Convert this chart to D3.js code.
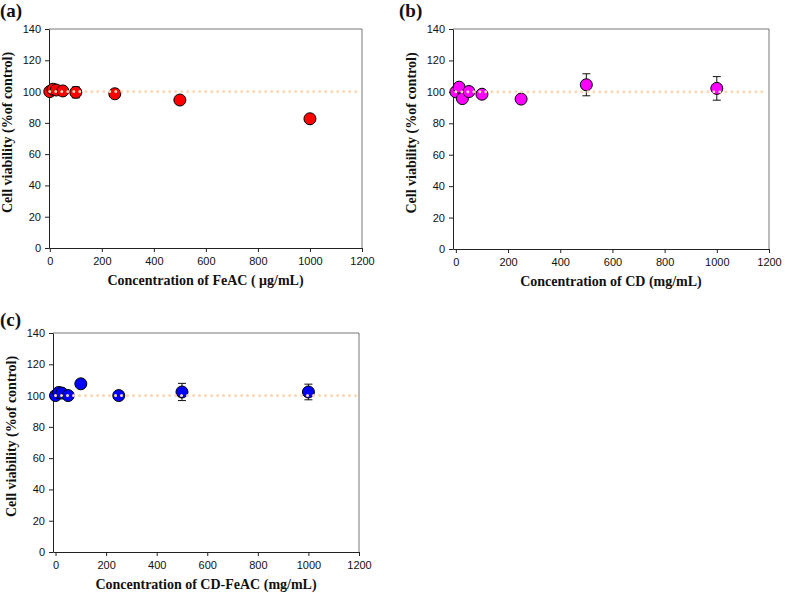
<!DOCTYPE html>
<html>
<head>
<meta charset="utf-8">
<script src="https://cdn.jsdelivr.net/npm/d3@7/dist/d3.min.js"></script>
<style>
  html, body { margin: 0; padding: 0; background: #fff; }
  svg { display: block; }
</style>
</head>
<body>
<svg id="chart" width="785" height="593"></svg>
<script>
// ---- Data ----
const concentrations = [0, 12.5, 25, 50, 100, 250, 500, 1000];
const viabilityFeAC = [100, 101.5, 101, 100.4, 99.5, 98.6, 94.6, 82.6];
const errorFeAC = [0, 0, 0, 0, 3.5, 1.5, 0, 0];
const viabilityCD = [100, 103, 95.7, 100.2, 98.5, 95.4, 104.5, 102.2];
const errorCD = [0, 0, 0, 0, 0, 0, 7, 7.5];
const viabilityCDFeAC = [100, 102, 101.6, 100, 107.5, 100, 102.3, 102.3];
const errorCDFeAC = [0, 0, 0, 0, 0, 0, 5.5, 5];
const xTicks = [0, 200, 400, 600, 800, 1000, 1200];
const yTicks = [0, 20, 40, 60, 80, 100, 120, 140];
const controlLevel = 100;
const panelLabels = ["(a)", "(b)", "(c)"];
const xTitles = ["Concentration of FeAC ( \u03BCg/mL)", "Concentration of CD (mg/mL)", "Concentration of CD-FeAC (mg/mL)"];
const yTitle = "Cell viability (%of control)";

// ---- Layout ----
const panels = [
  { values: viabilityFeAC, errors: errorFeAC, color: "#ff0000", left: 49, right: 362, top: 29, bottom: 248, xmin: -3, labelX: 0, labelY: 17 },
  { values: viabilityCD, errors: errorCD, color: "#ff00ff", left: 453, right: 769, top: 29, bottom: 249, xmin: -11, labelX: 399, labelY: 17 },
  { values: viabilityCDFeAC, errors: errorCDFeAC, color: "#0000ff", left: 53, right: 359, top: 333, bottom: 552, xmin: -10, labelX: 0, labelY: 326 }
];

const svg = d3.select("#chart");
const serif = "'Liberation Serif', 'Times New Roman', Times, serif";

panels.forEach((p, i) => {
  const g = svg.append("g");
  const x = d3.scaleLinear().domain([p.xmin, 1200]).range([p.left, p.right]);
  const y = d3.scaleLinear().domain([0, 140]).range([p.bottom, p.top]);

  // frame (top/right)
  g.append("path")
    .attr("d", `M${p.left},${p.top}H${p.right}V${p.bottom}`)
    .attr("fill", "none").attr("stroke", "#777").attr("stroke-width", 1);

  // axes
  const xAxis = d3.axisBottom(x).tickValues(xTicks).tickFormat(d3.format("d")).tickSize(4).tickSizeOuter(0).tickPadding(5);
  const yAxis = d3.axisLeft(y).tickValues(yTicks).tickFormat(d3.format("d")).tickSize(4).tickSizeOuter(0).tickPadding(4);
  const gx = g.append("g").attr("transform", `translate(0,${p.bottom})`).call(xAxis);
  const gy = g.append("g").attr("transform", `translate(${p.left},0)`).call(yAxis);
  [gx, gy].forEach(a => {
    a.selectAll("path.domain").attr("stroke", "#222");
    a.selectAll(".tick line").attr("stroke", "#222");
    a.selectAll(".tick text").attr("font-family", "'Liberation Sans', Arial, sans-serif")
      .attr("font-size", 11).attr("fill", "#111");
  });

  // error bars
  const eb = g.append("g").attr("stroke", "#111").attr("stroke-width", 1);
  concentrations.forEach((c, j) => {
    const e = p.errors[j];
    if (!e) return;
    const cx = x(c), v = p.values[j];
    eb.append("line").attr("x1", cx).attr("x2", cx).attr("y1", y(v - e)).attr("y2", y(v + e));
    eb.append("line").attr("x1", cx - 4).attr("x2", cx + 4).attr("y1", y(v - e)).attr("y2", y(v - e));
    eb.append("line").attr("x1", cx - 4).attr("x2", cx + 4).attr("y1", y(v + e)).attr("y2", y(v + e));
  });

  // points
  g.append("g").selectAll("circle")
    .data(concentrations.map((c, j) => ({ c, v: p.values[j] })))
    .join("circle")
    .attr("cx", d => x(d.c)).attr("cy", d => y(d.v)).attr("r", 6)
    .attr("fill", p.color).attr("stroke", "#000").attr("stroke-width", 1);

  // dotted control line (drawn on top)
  g.append("line")
    .attr("x1", x(0)).attr("x2", x(1190))
    .attr("y1", y(controlLevel)).attr("y2", y(controlLevel))
    .attr("stroke", "#fcd7b4").attr("stroke-width", 3)
    .attr("stroke-linecap", "round").attr("stroke-dasharray", "0,6");

  // titles
  g.append("text")
    .attr("x", (p.left + p.right) / 2).attr("y", p.bottom + 37)
    .attr("text-anchor", "middle")
    .attr("font-family", serif)
    .attr("font-weight", "bold").attr("font-size", 14).attr("fill", "#111")
    .text(xTitles[i]);

  g.append("text")
    .attr("transform", `translate(${p.left - 37},${(p.top + p.bottom) / 2 - 6}) rotate(-90)`)
    .attr("text-anchor", "middle")
    .attr("font-family", serif)
    .attr("font-weight", "bold").attr("font-size", 14).attr("fill", "#111")
    .text(yTitle);

  g.append("text")
    .attr("x", p.labelX).attr("y", p.labelY)
    .attr("font-family", serif)
    .attr("font-weight", "bold").attr("font-size", 19).attr("fill", "#111")
    .text(panelLabels[i]);
});
</script>
</body>
</html>
